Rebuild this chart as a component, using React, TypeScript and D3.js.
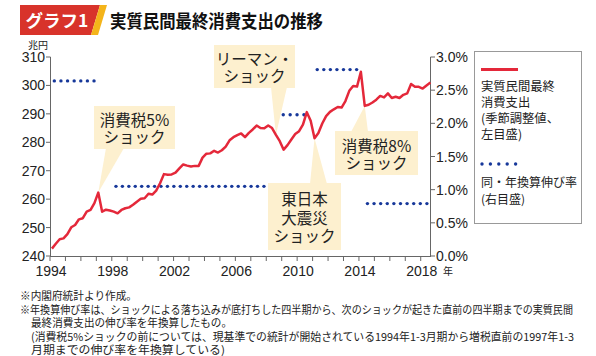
import React from "react";
import * as d3 from "d3";

// ---- data ----
const firstYear = 1994; // 1994 Q1 .. 2018 Q3, quarterly, trillion yen
const consumption: number[] = [
  242.6, 244.3, 245.9, 246.2, 247.7, 250.1, 250.9, 252.9, 253.3, 255.6,
  256.2, 258.6, 262.3, 255.6, 256.3, 256.0, 255.6, 255.0, 256.2, 256.8,
  257.1, 258.0, 259.1, 260.1, 260.3, 261.9, 261.6, 263.0, 265.6, 268.8,
  268.6, 268.7, 269.3, 270.8, 272.2, 271.8, 271.5, 271.7, 271.7, 274.6,
  276.0, 276.1, 277.0, 276.4, 277.2, 278.5, 280.7, 281.8, 282.5, 283.1,
  281.8, 283.3, 284.5, 285.9, 285.0, 284.9, 285.9, 285.0, 282.6, 280.4,
  277.4, 279.0, 281.0, 282.9, 283.9, 286.2, 290.6, 287.6, 281.4, 283.3,
  286.6, 289.2, 290.7, 291.6, 292.4, 292.2, 294.5, 298.1, 299.8, 299.6,
  304.8, 292.8, 293.2, 294.0, 295.0, 296.3, 295.8, 297.2, 295.6, 296.0,
  295.6, 296.7, 297.2, 300.5, 299.5, 299.5, 298.9, 300.0, 301.0,
];
const rateStart = [1994.28, 1998.27, 2009.1, 2011.3, 2014.55];
const rateEnd = [1996.85, 2007.85, 2010.44, 2013.85, 2018.4];
const rateValues = [2.64, 1.05, 2.13, 2.81, 0.79];

const leftTickValues = [240, 250, 260, 270, 280, 290, 300, 310];
const rightTickValues = [0, 0.5, 1.0, 1.5, 2.0, 2.5, 3.0];
const yearLabels = [1994, 1998, 2002, 2006, 2010, 2014, 2018];
const tickYears = d3.range(1994, 2019);

const calloutLabels = [
  ["消費税5%", "ショック"],
  ["リーマン・", "ショック"],
  ["東日本", "大震災", "ショック"],
  ["消費税8%", "ショック"],
];
const calloutQuarter = [12, 58, 68, 81];

const legendLabels1 = ["実質民間最終", "消費支出", "(季節調整値、", " 左目盛)"];
const legendLabels2 = ["同・年換算伸び率", "(右目盛)"];

const footnotes = [
  "※内閣府統計より作成。",
  "※年換算伸び率は、ショックによる落ち込みが底打ちした四半期から、次のショックが起きた直前の四半期までの実質民間",
  "最終消費支出の伸び率を年換算したもの。",
  "(消費税5%ショックの前については、現基準での統計が開始されている1994年1-3月期から増税直前の1997年1-3",
  "月期までの伸び率を年換算している)",
];

// ---- layout ----
const W = 596;
const H = 356;
const JP = "'Noto Sans CJK JP', 'Noto Sans', sans-serif";
const NUM = "'Liberation Sans', Arial, sans-serif";
const RED = "#e4283a";
const BLUE = "#17389a";
const BOX = "#fdf0cf";

const calloutBoxes = [
  { x: 94, y: 106, w: 81, h: 43, b0: 106, b1: 124, side: "bottom" },
  { x: 214, y: 45, w: 81, h: 43, b0: 271, b1: 287, side: "bottom" },
  { x: 268, y: 183, w: 73, h: 67, b0: 310, b1: 327, side: "top" },
  { x: 335, y: 131, w: 83, h: 44, b0: 351, b1: 368, side: "top" },
];
const footnoteWidths = [117, 553, 201, 543, 194];
const footnoteX = [20, 20, 31, 31, 31];

export default function App() {
  const x = d3.scaleLinear().domain([1994, 2018.6]).range([50, 430]);
  const yL = d3.scaleLinear().domain([240, 310]).range([256, 57]);
  const yR = d3.scaleLinear().domain([0, 3]).range([256, 57]);
  const qx = (i: number) => x(firstYear + (i + 0.5) / 4);

  const line = d3
    .line<number>()
    .x((_, i) => qx(i))
    .y((d) => yL(d));

  const dots: { cx: number; cy: number }[] = [];
  rateValues.forEach((r, k) => {
    const x0 = x(rateStart[k]);
    const x1 = x(rateEnd[k]);
    const n = Math.round((x1 - x0) / 6.4) + 1;
    for (let j = 0; j < n; j++) {
      dots.push({ cx: x0 + ((x1 - x0) * j) / (n - 1), cy: yR(r) });
    }
  });

  return (
    <svg width={W} height={H} style={{ position: "absolute", left: 0, top: 0 }}>
      <rect width={W} height={H} fill="#fff" />
      {/* title */}
      <polygon points="20,5 100,5 91,35 20,35" fill="#d8332b" />
      <polygon points="100,5 107,5 98,35 91,35" fill="#f4b41a" />
      <text x={57} y={27} fill="#fff" fontFamily={JP} fontWeight={700} fontSize={17.5} textAnchor="middle">
        グラフ1
      </text>
      <text
        x={110}
        y={27.5}
        fill="#111"
        fontFamily={JP}
        fontWeight={700}
        fontSize={18}
        textLength={213}
        lengthAdjust="spacingAndGlyphs"
      >
        実質民間最終消費支出の推移
      </text>

      {/* axes */}
      <text x={38} y={49} fontFamily={JP} fontSize={10} textAnchor="middle" fill="#222">兆円</text>
      <line x1={50.5} x2={50.5} y1={57} y2={256} stroke="#666" />
      <line x1={430.5} x2={430.5} y1={57} y2={256} stroke="#666" />
      <line x1={50} x2={431} y1={256.5} y2={256.5} stroke="#666" />
      {leftTickValues.map((v) => (
        <g key={"l" + v}>
          <line x1={46} x2={50.5} y1={yL(v)} y2={yL(v)} stroke="#666" />
          <text x={45} y={yL(v) + 5} textAnchor="end" fontFamily={NUM} fontSize={14} fill="#222">
            {v}
          </text>
        </g>
      ))}
      {rightTickValues.map((v) => (
        <g key={"r" + v}>
          <line x1={430.5} x2={435} y1={yR(v)} y2={yR(v)} stroke="#666" />
          <text x={436} y={yR(v) + 5} fontFamily={NUM} fontSize={14} fill="#222">
            {v.toFixed(1)}%
          </text>
        </g>
      ))}
      {tickYears.map((yv) => (
        <line key={"t" + yv} x1={x(yv)} x2={x(yv)} y1={256.5} y2={261} stroke="#666" />
      ))}
      {yearLabels.map((yv) => (
        <text key={"y" + yv} x={x(yv) + 1} y={276} textAnchor="middle" fontFamily={NUM} fontSize={14} fill="#222">
          {yv}
        </text>
      ))}
      <text x={448} y={275} fontFamily={JP} fontSize={10} textAnchor="middle" fill="#222">年</text>

      {/* callouts */}
      {calloutBoxes.map((b, k) => {
        const tx = qx(calloutQuarter[k]);
        const ty = yL(consumption[calloutQuarter[k]]);
        const by = b.side === "bottom" ? b.y + b.h - 1 : b.y + 1;
        const lines = calloutLabels[k];
        const lh = lines.length === 3 ? 18.3 : 17;
        const cy = b.y + b.h / 2 + 1.5;
        return (
          <g key={"c" + k}>
            <polygon points={`${b.b0},${by} ${b.b1},${by} ${tx},${ty}`} fill={BOX} />
            <rect x={b.x} y={b.y} width={b.w} height={b.h} fill={BOX} />
            {lines.map((s, j) => (
              <text
                key={j}
                x={b.x + b.w / 2}
                y={cy + (j - (lines.length - 1) / 2) * lh + 5.5}
                textAnchor="middle"
                fontFamily={JP}
                fontSize={15.5}
                fill="#222"
              >
                {s}
              </text>
            ))}
          </g>
        );
      })}

      {/* rate dots */}
      {dots.map((d, i) => (
        <circle key={"d" + i} cx={d.cx} cy={d.cy} r={1.7} fill={BLUE} />
      ))}

      {/* consumption line */}
      <path d={line(consumption) || ""} fill="none" stroke={RED} strokeWidth={2.5} strokeLinejoin="round" />

      {/* legend */}
      <rect x={474.5} y={51.5} width={107} height={172} fill="#fff" stroke="#999" />
      <line x1={481} x2={518} y1={69.5} y2={69.5} stroke={RED} strokeWidth={3} />
      {legendLabels1.map((s, j) => (
        <text key={"a" + j} x={481} y={91 + j * 16} fontFamily={JP} fontSize={12.3} fill="#222">
          {s}
        </text>
      ))}
      {d3.range(5).map((j) => (
        <circle key={"ld" + j} cx={482 + j * 8.4} cy={164} r={1.7} fill={BLUE} />
      ))}
      {legendLabels2.map((s, j) => (
        <text key={"b" + j} x={481} y={187 + j * 16.5} fontFamily={JP} fontSize={12} fill="#222">
          {s}
        </text>
      ))}

      {/* footnotes */}
      {footnotes.map((s, j) => (
        <text
          key={"f" + j}
          x={footnoteX[j]}
          y={300 + j * 13.6}
          fontFamily={JP}
          fontSize={11}
          fill="#222"
          textLength={footnoteWidths[j]}
          lengthAdjust="spacingAndGlyphs"
        >
          {s}
        </text>
      ))}
    </svg>
  );
}
